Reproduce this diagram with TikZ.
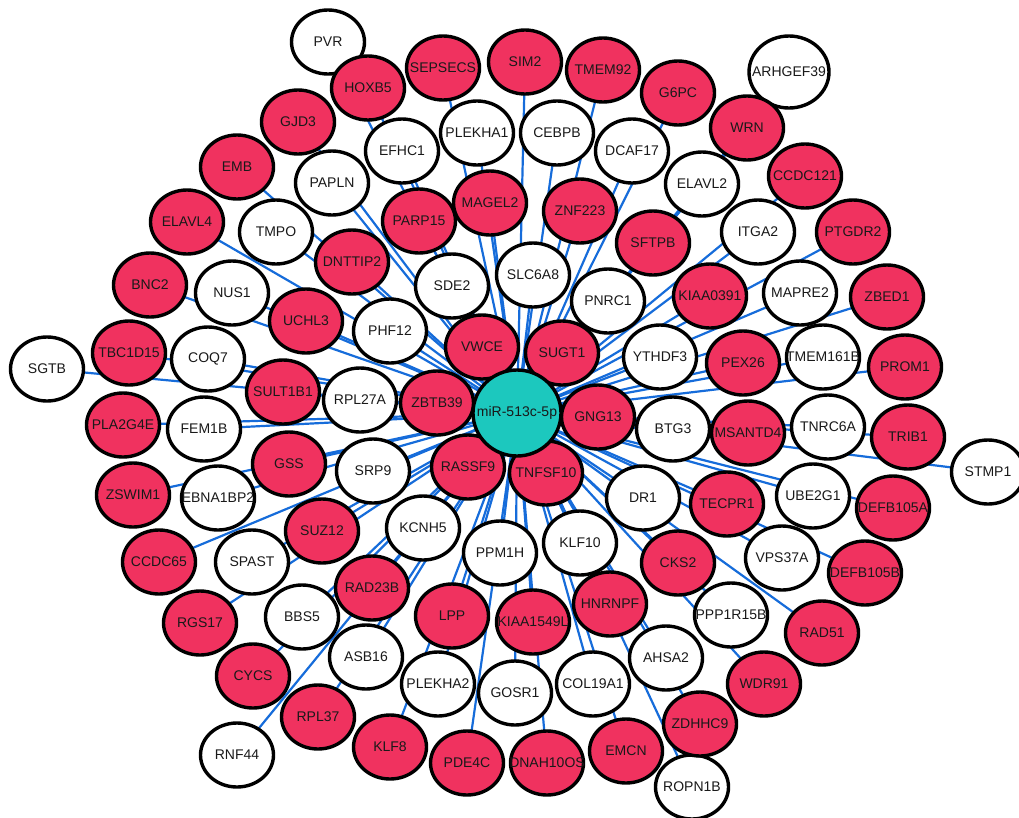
\documentclass[tikz,border=0pt]{standalone}
\usepackage{fontspec}
\setmainfont{Liberation Sans}
\usetikzlibrary{shapes.geometric,backgrounds}
\definecolor{redfill}{RGB}{240,50,95}
\definecolor{hubfill}{RGB}{28,200,190}
\definecolor{edgeblue}{RGB}{22,108,218}
\newcommand\lbl[1]{\makebox[0pt]{#1}}
\tikzset{
  gene/.style={ellipse,draw=black,line width=3.4pt,minimum width=73pt,minimum height=64pt,inner sep=0pt,font=\fontsize{14}{15}\selectfont,text=black!90},
  rg/.style={gene,fill=redfill},
  wg/.style={gene,fill=white},
  hubnode/.style={gene,fill=hubfill,minimum width=88pt,minimum height=86pt},
  edge/.style={draw=edgeblue,line width=2.2pt}
}
\begin{document}
\begin{tikzpicture}[x=1pt,y=-1pt]
\useasboundingbox (0,0) rectangle (1019,817);
% white nodes
\node[wg] (PVR) at (328,42) {\lbl{PVR}};
\node[wg,minimum width=80pt,minimum height=72pt] (ARHGEF39) at (789,72) {\lbl{ARHGEF39}};
\node[wg] (PLEKHA1) at (477,133) {\lbl{PLEKHA1}};
\node[wg] (CEBPB) at (557,133) {\lbl{CEBPB}};
\node[wg] (DCAF17) at (632,151) {\lbl{DCAF17}};
\node[wg] (EFHC1) at (402,151) {\lbl{EFHC1}};
\node[wg] (ELAVL2) at (702,184) {\lbl{ELAVL2}};
\node[wg] (PAPLN) at (332,183) {\lbl{PAPLN}};
\node[wg] (ITGA2) at (758,232) {\lbl{ITGA2}};
\node[wg] (TMPO) at (276,232) {\lbl{TMPO}};
\node[wg] (SDE2) at (452,286) {\lbl{SDE2}};
\node[wg] (SLC6A8) at (533,275) {\lbl{SLC6A8}};
\node[wg] (PNRC1) at (608,301) {\lbl{PNRC1}};
\node[wg] (NUS1) at (232,293) {\lbl{NUS1}};
\node[wg] (PHF12) at (390,331) {\lbl{PHF12}};
\node[wg] (MAPRE2) at (800,293) {\lbl{MAPRE2}};
\node[wg] (SGTB) at (47,369) {\lbl{SGTB}};
\node[wg] (COQ7) at (208,359) {\lbl{COQ7}};
\node[wg] (RPL27A) at (360,400) {\lbl{RPL27A}};
\node[wg] (YTHDF3) at (660,357) {\lbl{YTHDF3}};
\node[wg] (TMEM161B) at (823,357) {\lbl{TMEM161B}};
\node[wg] (FEM1B) at (204,429) {\lbl{FEM1B}};
\node[wg] (BTG3) at (673,429) {\lbl{BTG3}};
\node[wg] (TNRC6A) at (828,427) {\lbl{TNRC6A}};
\node[wg] (STMP1) at (988,472) {\lbl{STMP1}};
\node[wg] (SRP9) at (373,471) {\lbl{SRP9}};
\node[wg] (EBNA1BP2) at (218,498) {\lbl{EBNA1BP2}};
\node[wg] (DR1) at (643,498) {\lbl{DR1}};
\node[wg] (UBE2G1) at (813,496) {\lbl{UBE2G1}};
\node[wg] (KCNH5) at (423,528) {\lbl{KCNH5}};
\node[wg] (SPAST) at (252,562) {\lbl{SPAST}};
\node[wg] (PPM1H) at (500,553) {\lbl{PPM1H}};
\node[wg] (KLF10) at (580,543) {\lbl{KLF10}};
\node[wg] (VPS37A) at (782,558) {\lbl{VPS37A}};
\node[wg] (BBS5) at (302,617) {\lbl{BBS5}};
\node[wg] (PPP1R15B) at (731,615) {\lbl{PPP1R15B}};
\node[wg] (ASB16) at (366,657) {\lbl{ASB16}};
\node[wg] (PLEKHA2) at (438,684) {\lbl{PLEKHA2}};
\node[wg] (GOSR1) at (515,693) {\lbl{GOSR1}};
\node[wg] (COL19A1) at (593,684) {\lbl{COL19A1}};
\node[wg] (AHSA2) at (666,658) {\lbl{AHSA2}};
\node[wg] (RNF44) at (237,755) {\lbl{RNF44}};
\node[wg] (ROPN1B) at (692,787) {\lbl{ROPN1B}};
% red nodes
\node[rg] (HOXB5) at (368,88) {\lbl{HOXB5}};
\node[rg] (SEPSECS) at (443,68) {\lbl{SEPSECS}};
\node[rg] (SIM2) at (525,62) {\lbl{SIM2}};
\node[rg] (TMEM92) at (603,70) {\lbl{TMEM92}};
\node[rg] (G6PC) at (678,93) {\lbl{G6PC}};
\node[rg] (WRN) at (747,128) {\lbl{WRN}};
\node[rg] (GJD3) at (298,122) {\lbl{GJD3}};
\node[rg] (EMB) at (237,167) {\lbl{EMB}};
\node[rg] (ELAVL4) at (187,222) {\lbl{ELAVL4}};
\node[rg] (CCDC121) at (805,176) {\lbl{CCDC121}};
\node[rg] (PTGDR2) at (853,232) {\lbl{PTGDR2}};
\node[rg] (MAGEL2) at (490,203) {\lbl{MAGEL2}};
\node[rg] (ZNF223) at (580,211) {\lbl{ZNF223}};
\node[rg] (PARP15) at (419,221) {\lbl{PARP15}};
\node[rg] (SFTPB) at (653,243) {\lbl{SFTPB}};
\node[rg] (DNTTIP2) at (352,262) {\lbl{DNTTIP2}};
\node[rg] (BNC2) at (150,285) {\lbl{BNC2}};
\node[rg] (KIAA0391) at (710,296) {\lbl{KIAA0391}};
\node[rg] (ZBED1) at (887,297) {\lbl{ZBED1}};
\node[rg] (UCHL3) at (306,321) {\lbl{UCHL3}};
\node[rg] (VWCE) at (482,347) {\lbl{VWCE}};
\node[rg] (SUGT1) at (562,353) {\lbl{SUGT1}};
\node[rg] (TBC1D15) at (129,353) {\lbl{TBC1D15}};
\node[rg] (PEX26) at (743,363) {\lbl{PEX26}};
\node[rg] (PROM1) at (905,367) {\lbl{PROM1}};
\node[rg] (SULT1B1) at (283,392) {\lbl{SULT1B1}};
\node[rg] (ZBTB39) at (437,403) {\lbl{ZBTB39}};
\node[rg] (GNG13) at (598,417) {\lbl{GNG13}};
\node[rg] (PLA2G4E) at (123,425) {\lbl{PLA2G4E}};
\node[rg] (MSANTD4) at (748,433) {\lbl{MSANTD4}};
\node[rg] (TRIB1) at (908,437) {\lbl{TRIB1}};
\node[rg] (GSS) at (289,464) {\lbl{GSS}};
\node[rg] (RASSF9) at (468,467) {\lbl{RASSF9}};
\node[rg] (TNFSF10) at (546,473) {\lbl{TNFSF10}};
\node[rg] (ZSWIM1) at (133,495) {\lbl{ZSWIM1}};
\node[rg] (TECPR1) at (727,504) {\lbl{TECPR1}};
\node[rg] (DEFB105A) at (893,508) {\lbl{DEFB105A}};
\node[rg] (SUZ12) at (322,531) {\lbl{SUZ12}};
\node[rg] (CCDC65) at (159,562) {\lbl{CCDC65}};
\node[rg] (CKS2) at (678,563) {\lbl{CKS2}};
\node[rg] (DEFB105B) at (865,573) {\lbl{DEFB105B}};
\node[rg] (RAD23B) at (372,588) {\lbl{RAD23B}};
\node[rg] (HNRNPF) at (610,604) {\lbl{HNRNPF}};
\node[rg] (LPP) at (452,616) {\lbl{LPP}};
\node[rg] (KIAA1549L) at (533,622) {\lbl{KIAA1549L}};
\node[rg] (RGS17) at (200,623) {\lbl{RGS17}};
\node[rg] (RAD51) at (822,633) {\lbl{RAD51}};
\node[rg] (CYCS) at (253,676) {\lbl{CYCS}};
\node[rg] (WDR91) at (764,684) {\lbl{WDR91}};
\node[rg] (RPL37) at (318,717) {\lbl{RPL37}};
\node[rg] (ZDHHC9) at (700,724) {\lbl{ZDHHC9}};
\node[rg] (KLF8) at (390,747) {\lbl{KLF8}};
\node[rg] (EMCN) at (626,751) {\lbl{EMCN}};
\node[rg] (PDE4C) at (467,763) {\lbl{PDE4C}};
\node[rg] (DNAH10OS) at (547,763) {\lbl{DNAH10OS}};
% hub
\node[hubnode] (hub) at (517,413) {\lbl{miR-513c-5p}};
\begin{scope}[on background layer]
\foreach \n in {PVR,ARHGEF39,PLEKHA1,CEBPB,DCAF17,EFHC1,ELAVL2,PAPLN,ITGA2,TMPO,SDE2,SLC6A8,PNRC1,NUS1,PHF12,MAPRE2,SGTB,COQ7,RPL27A,YTHDF3,TMEM161B,FEM1B,BTG3,TNRC6A,STMP1,SRP9,EBNA1BP2,DR1,UBE2G1,KCNH5,SPAST,PPM1H,KLF10,VPS37A,BBS5,PPP1R15B,ASB16,PLEKHA2,GOSR1,COL19A1,AHSA2,RNF44,ROPN1B,HOXB5,SEPSECS,SIM2,TMEM92,G6PC,WRN,GJD3,EMB,ELAVL4,CCDC121,PTGDR2,MAGEL2,ZNF223,PARP15,SFTPB,DNTTIP2,BNC2,KIAA0391,ZBED1,UCHL3,VWCE,SUGT1,TBC1D15,PEX26,PROM1,SULT1B1,ZBTB39,GNG13,PLA2G4E,MSANTD4,TRIB1,GSS,RASSF9,TNFSF10,ZSWIM1,TECPR1,DEFB105A,SUZ12,CCDC65,CKS2,DEFB105B,RAD23B,HNRNPF,LPP,KIAA1549L,RGS17,RAD51,CYCS,WDR91,RPL37,ZDHHC9,KLF8,EMCN,PDE4C,DNAH10OS}
  \draw[edge] (hub.center) -- (\n.center);
\end{scope}
\end{tikzpicture}
\end{document}
